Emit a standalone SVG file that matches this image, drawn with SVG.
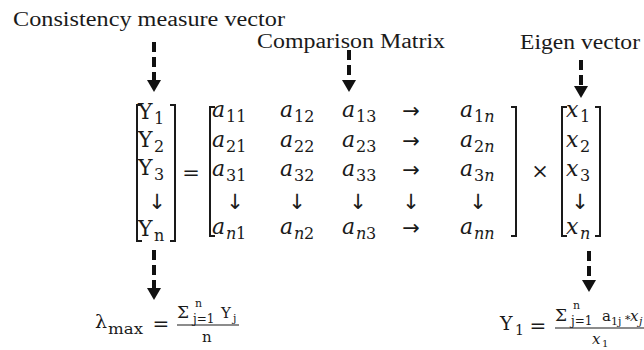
<svg xmlns="http://www.w3.org/2000/svg" width="644" height="350" viewBox="0 0 644 350">
<style>
text{font-family:"DejaVu Serif",serif;fill:#1a1a1a}
.lbl{font-family:"Liberation Serif","Times New Roman",serif;font-size:20px}
.m{font-size:22px}
.i{font-style:italic}
.s{font-size:16px}
.op{font-size:21px;text-anchor:middle}
.ar{font-family:"DejaVu Sans",sans-serif;font-size:21px;text-anchor:middle}
.f{font-size:19px}
.fs{font-size:14px}
.fn{font-size:15px}
.fg{font-size:17px}
.fx{font-size:11px}
.br{fill:none;stroke:#1a1a1a;stroke-width:2}
.dash{stroke:#111;stroke-width:4;stroke-dasharray:10 5;fill:none}
.head{fill:#111}
.bar{stroke:#1a1a1a;stroke-width:1.2}
</style>
<rect width="644" height="350" fill="#fff"/>

<g id="label-consistency"><text class="lbl" x="13" y="26" textLength="272" lengthAdjust="spacingAndGlyphs">Consistency measure vector</text></g>
<g id="label-comparison"><text class="lbl" x="257" y="48" textLength="188" lengthAdjust="spacingAndGlyphs">Comparison Matrix</text></g>
<g id="label-eigen"><text class="lbl" x="520" y="49" textLength="120" lengthAdjust="spacingAndGlyphs">Eigen vector</text></g>

<g id="connectors">
<line class="dash" x1="154" y1="42" x2="154" y2="80"/><polygon class="head" points="147,80 161,80 154,92"/>
<line class="dash" x1="349" y1="50" x2="349" y2="80"/><polygon class="head" points="342,80 356,80 349,92"/>
<line class="dash" x1="581" y1="60" x2="581" y2="86"/><polygon class="head" points="574,86 588,86 581,98"/>
<line class="dash" x1="154" y1="250" x2="154" y2="288"/><polygon class="head" points="147,288 161,288 154,300"/>
<line class="dash" x1="589" y1="251" x2="589" y2="280"/><polygon class="head" points="582,280 596,280 589,292"/>
</g>

<g id="vector-Y">
<path class="br" d="M142,105 H137 V241 H142 M170,105 H175 V241 H170"/>
<text class="m" x="138" y="119">Y</text><text class="s" x="154" y="124">1</text>
<text class="m" x="138" y="147">Y</text><text class="s" x="154" y="152">2</text>
<text class="m" x="138" y="175">Y</text><text class="s" x="154" y="180">3</text>
<text class="ar" x="157" y="209">↓</text>
<text class="m" x="138" y="236">Y</text><text class="s" x="154" y="241">n</text>
</g>

<g id="equals"><text class="op" x="191" y="180">=</text></g>

<g id="matrix-A">
<path class="br" d="M215,107 H210 V236 H215 M511,107 H516 V236 H511"/>
<text class="m i" x="212" y="117">a</text><text class="s" x="226" y="122">11</text>
<text class="m i" x="280" y="117">a</text><text class="s" x="294" y="122">12</text>
<text class="m i" x="342" y="117">a</text><text class="s" x="356" y="122">13</text>
<text class="ar" x="411" y="118">→</text>
<text class="m i" x="460" y="117">a</text><text class="s" x="474" y="122">1<tspan class="i">n</tspan></text>

<text class="m i" x="212" y="147">a</text><text class="s" x="226" y="152">21</text>
<text class="m i" x="280" y="147">a</text><text class="s" x="294" y="152">22</text>
<text class="m i" x="342" y="147">a</text><text class="s" x="356" y="152">23</text>
<text class="ar" x="411" y="148">→</text>
<text class="m i" x="460" y="147">a</text><text class="s" x="474" y="152">2<tspan class="i">n</tspan></text>

<text class="m i" x="212" y="176">a</text><text class="s" x="226" y="181">31</text>
<text class="m i" x="280" y="176">a</text><text class="s" x="294" y="181">32</text>
<text class="m i" x="342" y="176">a</text><text class="s" x="356" y="181">33</text>
<text class="ar" x="411" y="177">→</text>
<text class="m i" x="460" y="176">a</text><text class="s" x="474" y="181">3<tspan class="i">n</tspan></text>

<text class="ar" x="235" y="209">↓</text>
<text class="ar" x="297" y="209">↓</text>
<text class="ar" x="358" y="209">↓</text>
<text class="ar" x="411" y="209">↓</text>
<text class="ar" x="478" y="209">↓</text>

<text class="m i" x="212" y="234">a</text><text class="s i" x="226" y="239">n</text><text class="s" x="236" y="239">1</text>
<text class="m i" x="280" y="234">a</text><text class="s i" x="294" y="239">n</text><text class="s" x="304" y="239">2</text>
<text class="m i" x="342" y="234">a</text><text class="s i" x="356" y="239">n</text><text class="s" x="366" y="239">3</text>
<text class="ar" x="411" y="235">→</text>
<text class="m i" x="460" y="234">a</text><text class="s i" x="474" y="239">nn</text>
</g>

<g id="times"><text class="op" x="540" y="178">×</text></g>

<g id="vector-x">
<path class="br" d="M567,107 H562 V236 H567 M595,107 H600 V236 H595"/>
<text class="m i" x="566" y="117">x</text><text class="s" x="580" y="122">1</text>
<text class="m i" x="566" y="147">x</text><text class="s" x="580" y="152">2</text>
<text class="m i" x="566" y="176">x</text><text class="s" x="580" y="181">3</text>
<text class="ar" x="580" y="209">↓</text>
<text class="m i" x="566" y="234">x</text><text class="s i" x="580" y="239">n</text>
</g>

<g id="formula-lambda">
<text class="f" x="95" y="328">λ</text><text class="fs" x="108" y="334" textLength="35" lengthAdjust="spacingAndGlyphs">max</text>
<text class="op" x="161" y="331" style="font-size:20px">=</text>
<line class="bar" x1="177" y1="325" x2="239" y2="325"/>
<text class="fg" x="177" y="318">Σ</text>
<text class="fx" x="195" y="307">n</text>
<text class="fx" x="193" y="323" style="font-size:12px">j=1</text>
<text class="fn" x="221" y="318">Y</text><text class="fx" x="233" y="322">j</text>
<text class="fn" x="202" y="342">n</text>
</g>

<g id="formula-Y1">
<text class="f" x="500" y="330">Y</text><text class="fs" x="515" y="335">1</text>
<text class="op" x="538" y="333" style="font-size:20px">=</text>
<line class="bar" x1="555" y1="328" x2="644" y2="328"/>
<text class="fg" x="555" y="321">Σ</text>
<text class="fx" x="573" y="309">n</text>
<text class="fx" x="571" y="325" style="font-size:12px">j=1</text>
<text class="fn" x="602" y="321">a</text><text class="fx" x="611" y="325">1j</text>
<text class="fx" x="624" y="321">∗</text>
<text class="fn i" x="630" y="321">x</text><text class="fx i" x="639" y="325">j</text>
<text class="fn i" x="592" y="344">x</text><text class="fx" x="602" y="347" style="font-size:10px">1</text>
</g>
</svg>
